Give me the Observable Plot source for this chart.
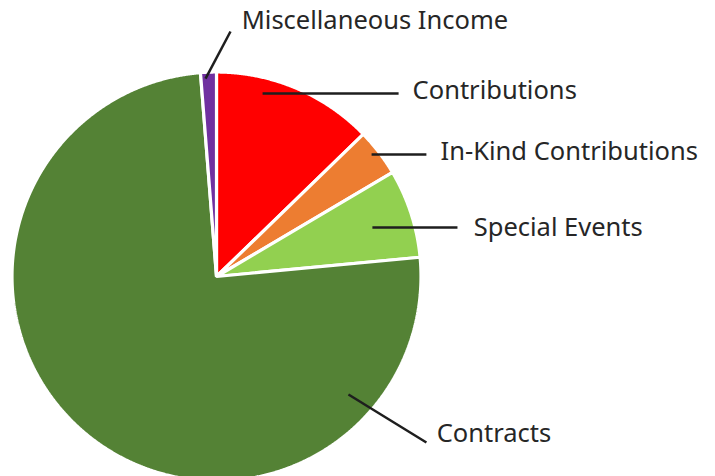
<!DOCTYPE html>
<html><head><meta charset="utf-8">
<script src="https://cdn.jsdelivr.net/npm/d3@7"></script>
<script src="https://cdn.jsdelivr.net/npm/@observablehq/plot@0.6"></script>
<style>body{margin:0;background:#fff;overflow:hidden}</style>
</head><body><div id="chart"></div>
<script>
// ---- data ----
const categories = ["Contributions", "In-Kind Contributions", "Special Events", "Contracts", "Miscellaneous Income"];
const values = [12.75, 3.75, 7.0, 75.25, 1.25];
const colors = ["#FF0000", "#ED7D31", "#92D050", "#548235", "#7030A0"];

// ---- label layout (unit-radius pie coordinates, y up) ----
const leaderFrom = [[0.227, 0.901], [0.764, 0.601], [0.768, 0.241], [0.650, -0.581], [-0.054, 0.975]];
const leaderTo   = [[0.897, 0.901], [1.034, 0.601], [1.187, 0.241], [1.034, -0.818], [0.069, 1.207]];
const labelAt    = [[0.966, 0.916], [1.104, 0.616], [1.267, 0.241], [1.085, -0.773], [0.124, 1.261]];

// ---- geometry ----
const W = 715, H = 476, cx = 216, cy = 276, R = 203;
const rOuter = 1 + 1.5 / R; // compensate for the white slice border
const arcs = d3.pie().sort(null).startAngle(0).endAngle(2 * Math.PI)(values);
const pts = [];
arcs.forEach((a, i) => {
  const cat = categories[i];
  pts.push({cat, x: 0, y: 0});
  const n = Math.max(4, Math.ceil((a.endAngle - a.startAngle) / 0.005));
  for (let k = 0; k <= n; k++) {
    const t = a.startAngle + (a.endAngle - a.startAngle) * k / n;
    pts.push({cat, x: rOuter * Math.sin(t), y: rOuter * Math.cos(t)});
  }
});
const leaders = categories.map((c, i) => ({cat: c, x1: leaderFrom[i][0], y1: leaderFrom[i][1], x2: leaderTo[i][0], y2: leaderTo[i][1]}));
const labels = categories.map((c, i) => ({cat: c, x: labelAt[i][0], y: labelAt[i][1]}));

const chart = Plot.plot({
  width: W, height: H, margin: 0,
  style: {background: "#fff", overflow: "hidden"},
  x: {domain: [-1, 1], range: [cx - R, cx + R], axis: null},
  y: {domain: [-1, 1], range: [cy + R, cy - R], axis: null},
  color: {domain: categories, range: colors},
  marks: [
    Plot.line(pts, {x: "x", y: "y", z: "cat", fill: "cat", stroke: "white", strokeWidth: 3.2, strokeLinejoin: "miter", curve: "linear-closed"}),
    Plot.link(leaders, {x1: "x1", y1: "y1", x2: "x2", y2: "y2", stroke: "#1e1e1e", strokeWidth: 2.5}),
    Plot.text(labels, {x: "x", y: "y", text: "cat", textAnchor: "start", fontSize: 25.5, fill: "#262626", fontFamily: "Noto Sans"})
  ]
});
document.getElementById("chart").appendChild(chart);
</script>
</body></html>
